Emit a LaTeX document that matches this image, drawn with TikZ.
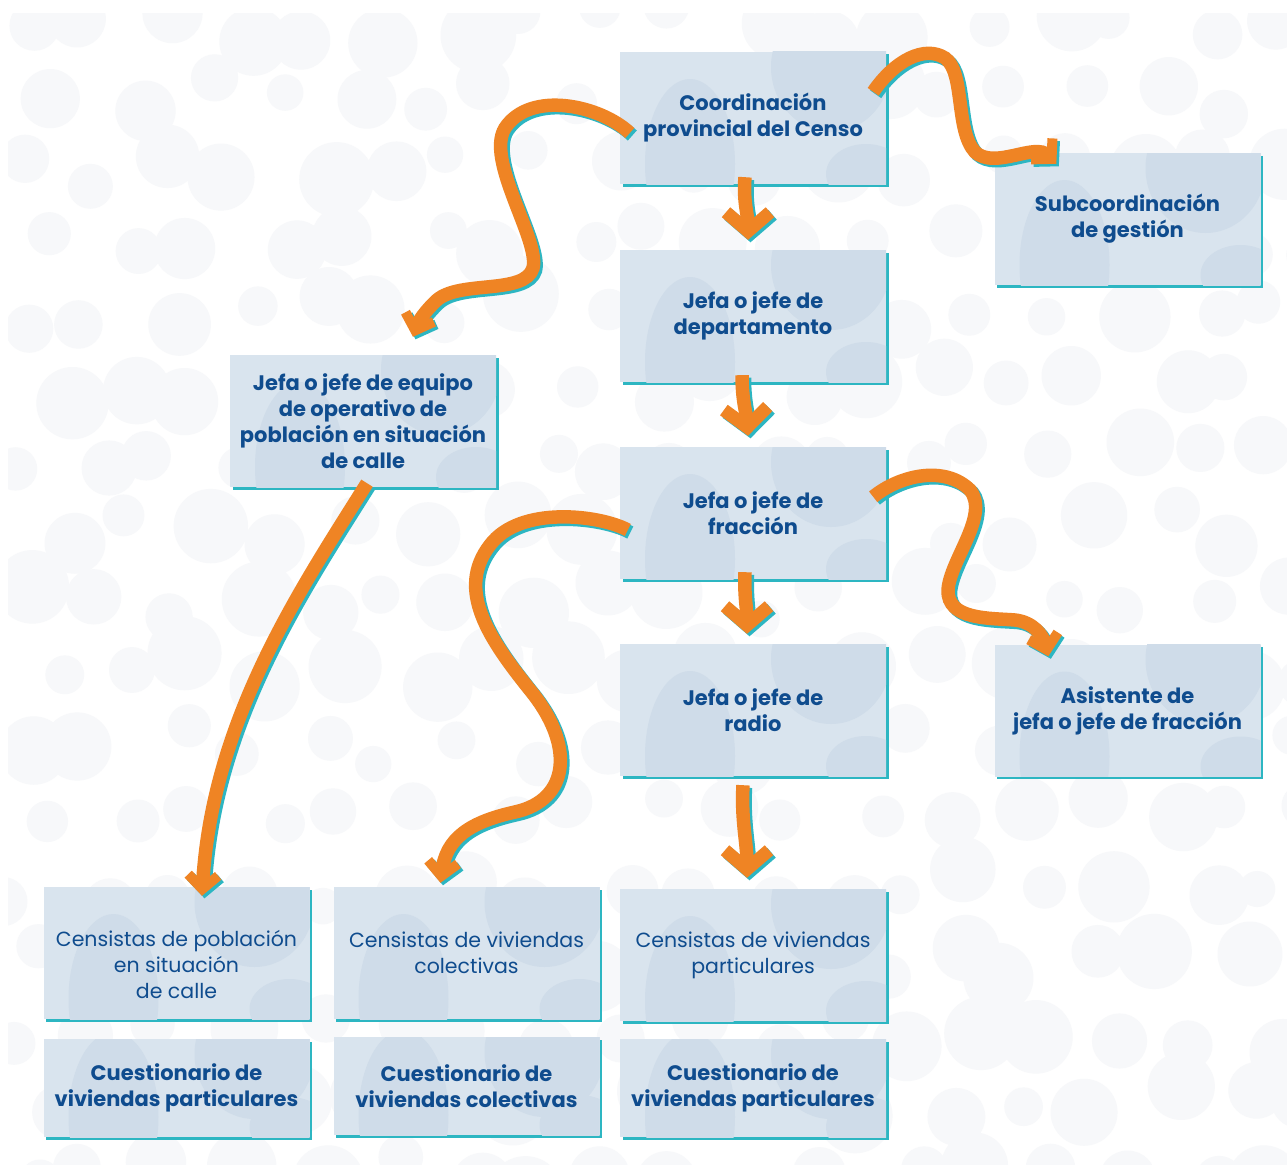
\documentclass[tikz,border=0pt]{standalone}
\usepackage{fontspec}
\setmainfont{Poppins}
\usetikzlibrary{arrows.meta,shadows}
\definecolor{boxfill}{HTML}{D9E4EE}
\definecolor{blob}{HTML}{CFDCE9}
\definecolor{txt}{HTML}{0F4C8E}
\definecolor{cyanline}{HTML}{2DB6C2}
\definecolor{orng}{HTML}{EF8424}
\definecolor{bgc}{HTML}{F7F8FA}
\newcommand\orarrow[2]{%
  \draw[flow,#1,cyanline,transform canvas={shift={(2.5pt,-2.5pt)}}] #2;
  \draw[flow,#1,orng] #2;}
\begin{document}
\begin{tikzpicture}[x=1pt,y=-1pt,
  box/.style={minimum width=266pt, minimum height=132pt, inner sep=0pt, fill=boxfill,
    align=center, text=txt, font=\bfseries\fontsize{21}{26}\selectfont,
    general shadow={fill=cyanline, shadow xshift=2.5pt, shadow yshift=-2.5pt},
    path picture={
      \fill[blob] ([xshift=70pt,yshift=20pt]path picture bounding box.south west) ellipse (45pt and 85pt);
      \fill[blob] ([xshift=-55pt,yshift=-15pt]path picture bounding box.north east) ellipse (60pt and 65pt);
      \fill[blob] ([xshift=-20pt,yshift=10pt]path picture bounding box.south east) ellipse (40pt and 30pt);
    }},
  qbox/.style={box, minimum height=98pt},
  lbox/.style={box, font=\fontsize{20.5}{26}\selectfont},
  ltxt/.style={align=center, text=txt, font=\fontsize{20.5}{26}\selectfont, inner sep=0pt},
  flow/.style={line width=13.5pt, line cap=butt},
  tipbig/.style={-{Straight Barb[length=19pt,width=44pt,line width=13pt,sharp]}},
  tipsmall/.style={-{Straight Barb[length=14pt,width=30pt,line width=10pt,sharp]}},
]
\useasboundingbox (0,0) rectangle (1287,1164);
\fill[white] (0,0) rectangle (1287,1164);
\begin{scope}
\clip (8,14) rectangle (1287,1164);
\pgfmathsetseed{11}
\foreach \i in {0,...,17}{
  \foreach \j in {0,...,16}{
    \pgfmathsetmacro\cx{20+\i*74+rand*22+mod(\j,2)*37}
    \pgfmathsetmacro\cy{25+\j*72+rand*20}
    \pgfmathsetmacro\cr{18+rnd*20}
    \fill[bgc] (\cx,\cy) circle (\cr pt);
  }
}
\end{scope}

% boxes
\node[box] (coord) at (753,118) {Coordinación\\provincial del Censo};
\node[box] (sub) at (1127.5,219) {Subcoordinación\\de gestión};
\node[box] (dep) at (753,316) {Jefa o jefe de\\departamento};
\node[box] (equ) at (363,421) {Jefa o jefe de equipo\\de operativo de\\población en situación\\de calle};
\node[box] (fra) at (753,513) {Jefa o jefe de\\fracción};
\node[box] (rad) at (753,710) {Jefa o jefe de\\radio};
\node[box] (asi) at (1127.5,710.5) {Asistente de\\jefa o jefe de fracción};
\node[lbox] (cpo) at (176.5,953) {};
\node[ltxt] (cpotxt) at ([yshift=-11pt]cpo.center) {Censistas de población\\en situación\\de calle};
\node[lbox] (cco) at (466.5,953) {Censistas de viviendas\\colectivas};
\node[lbox] (cpa) at (753,955) {Censistas de viviendas\\particulares};
\node[qbox] (qpl) at (176.5,1088) {Cuestionario de\\viviendas particulares};
\node[qbox] (qco) at (466.5,1086) {Cuestionario de\\viviendas colectivas};
\node[qbox] (qpr) at (753,1088) {Cuestionario de\\viviendas particulares};

% connectors
\coordinate (a1s) at ([shift={(-8,-7)}]coord.south);
\coordinate (a1e) at ([shift={(-5,-10)}]dep.north);
\orarrow{tipbig}{(a1s) .. controls ([shift={(-2,25)}]a1s) and ([shift={(0,-25)}]a1e) .. (a1e)}

\coordinate (a2s) at ([shift={(-13,40)}]coord.north east);
\coordinate (a2e) at ([shift={(62,11)}]sub.north west);
\orarrow{tipsmall}{(a2s) .. controls (895,60) and (925,45) .. (945,58)
  .. controls (965,72) and (955,130) .. (975,152)
  .. controls (995,170) and (1035,142) .. (a2e)}

\coordinate (a3s) at ([shift={(10,15)}]coord.west);
\coordinate (a3e) at ([shift={(50,-18)}]equ.north);
\orarrow{tipsmall}{(a3s) .. controls (600,105) and (530,90) .. (505,128)
  .. controls (485,160) and (540,240) .. (533,268)
  .. controls (525,295) and (460,280) .. (437,300)
  .. controls (425,311) and (418,322) .. (a3e)}

\coordinate (a4s) at ([shift={(4,-4)}]equ.south);
\coordinate (a4e) at ([shift={(25.5,9)}]cpo.north);
\orarrow{tipsmall}{(a4s) .. controls (300,590) and (212,720) .. (a4e)}

\coordinate (a5s) at ([shift={(-11,-7)}]dep.south);
\coordinate (a5e) at ([shift={(-5,-11)}]fra.north);
\orarrow{tipbig}{(a5s) .. controls ([shift={(0,25)}]a5s) and ([shift={(-2,-25)}]a5e) .. (a5e)}

\coordinate (a6s) at ([shift={(8,17)}]fra.west);
\coordinate (a6e) at ([shift={(-26,-4)}]cco.north);
\orarrow{tipsmall}{(a6s) .. controls (600,515) and (520,505) .. (490,545)
  .. controls (455,590) and (490,640) .. (530,690)
  .. controls (575,745) and (570,800) .. (515,812)
  .. controls (470,822) and (446,838) .. (a6e)}

\coordinate (a7s) at ([shift={(-8,-7)}]fra.south);
\coordinate (a7e) at ([shift={(-6,-10)}]rad.north);
\orarrow{tipbig}{(a7s) .. controls ([shift={(-1,25)}]a7s) and ([shift={(0,-25)}]a7e) .. (a7e)}

\coordinate (a8s) at ([shift={(-13,50)}]fra.north east);
\coordinate (a8e) at ([shift={(54,12)}]asi.north west);
\orarrow{tipsmall}{(a8s) .. controls (900,475) and (945,465) .. (970,490)
  .. controls (990,515) and (950,560) .. (948,590)
  .. controls (947,620) and (990,618) .. (1015,620)
  .. controls (1033,622) and (1043,635) .. (a8e)}

\coordinate (a9s) at ([shift={(-10,9)}]rad.south);
\coordinate (a9e) at ([shift={(-6,-11)}]cpa.north);
\orarrow{tipbig}{(a9s) .. controls ([shift={(-2,35)}]a9s) and ([shift={(0,-35)}]a9e) .. (a9e)}
\end{tikzpicture}
\end{document}
